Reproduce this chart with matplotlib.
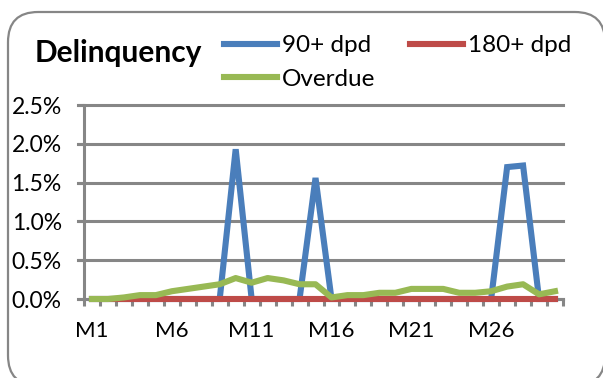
import matplotlib
matplotlib.use("Agg")
import matplotlib.pyplot as plt
from matplotlib.patches import FancyBboxPatch
from matplotlib.ticker import FixedLocator, FuncFormatter
from matplotlib.lines import Line2D

months = [f"M{i}" for i in range(1, 31)]
dpd90 = [0, 0, 0, 0, 0, 0, 0, 0, 0, 0.0193, 0, 0, 0, 0, 0.0156, 0, 0, 0, 0, 0,
         0, 0, 0, 0, 0, 0, 0.0170, 0.0172, 0, 0]
dpd180 = [0.0] * 30
overdue = [0.0, 0.0, 0.0002, 0.0005, 0.0005, 0.0010, 0.0013, 0.0016, 0.0019, 0.0027,
           0.0021, 0.0027, 0.0024, 0.0019, 0.0019, 0.0002, 0.0005, 0.0005, 0.0008, 0.0008,
           0.0013, 0.0013, 0.0013, 0.0008, 0.0008, 0.0010, 0.0016, 0.0019, 0.0006, 0.0010]
yticks = [0, 0.005, 0.01, 0.015, 0.02, 0.025]
xlabels_shown = ["M1", "M6", "M11", "M16", "M21", "M26"]

FONT = ["Lato", "DejaVu Sans"]
plt.rcParams['font.family'] = FONT

W, H = 603, 378
fig = plt.figure(figsize=(W / 100, H / 100), dpi=100)

grey = "#868686"
LW = 4.4
# rounded chart border
border = FancyBboxPatch((8 / W, 1 - 378 / H - 0.02), (605 - 8) / W, (378 - 12) / H + 0.02,
                        boxstyle="round,pad=0,rounding_size=0.05",
                        transform=fig.transFigure, facecolor="white",
                        edgecolor=grey, linewidth=1.6, zorder=-5, mutation_aspect=W / H)
fig.patches.append(border)

ax = fig.add_axes([84 / W, 1 - 299 / H, (563 - 84) / W, (299 - 105) / H])
ax.set_zorder(2)
ax.set_facecolor("none")

x = list(range(1, 31))
ax.plot(x, dpd90, color="#4A7EBB", lw=LW, solid_joinstyle="miter", zorder=3, clip_on=False)
ax.plot(x, dpd180, color="#BE4B48", lw=LW, zorder=4, clip_on=False)
ax.plot(x, overdue, color="#98B954", lw=LW, zorder=5, clip_on=False)

ax.set_xlim(0.5, 30.5)
ax.set_ylim(0, 0.025)

for y in yticks:
    ax.axhline(y, xmin=-0.013, xmax=1.0, color=grey, lw=2.2, zorder=1, clip_on=False)

for s in ["top", "right"]:
    ax.spines[s].set_visible(False)
ax.spines["left"].set_color(grey)
ax.spines["left"].set_linewidth(2.2)
ax.spines["bottom"].set_color(grey)
ax.spines["bottom"].set_linewidth(2.2)
ax.spines["bottom"].set_zorder(2)

ax.yaxis.set_major_locator(FixedLocator(yticks))
ax.yaxis.set_major_formatter(FuncFormatter(lambda v, p: f"{v*100:.1f}%"))
ax.tick_params(axis="y", length=5, width=2.2, color=grey, labelsize=16.5, pad=11)

label_pos = [months.index(m) + 1 for m in xlabels_shown]
ax.xaxis.set_major_locator(FixedLocator(label_pos))
ax.set_xticklabels(xlabels_shown)
ax.xaxis.set_minor_locator(FixedLocator([i + 0.5 for i in range(0, 31)]))
ax.tick_params(axis="x", which="major", length=0, labelsize=16, pad=16)
ax.tick_params(axis="x", which="minor", length=5, width=2.2, color=grey)

fig.text(35 / W, 1 - 53 / H, "Delinquency", fontsize=21.5, fontweight="bold",
         va="center", ha="left")

handles = [Line2D([], [], color="#4A7EBB", lw=LW),
           Line2D([], [], color="#98B954", lw=LW),
           Line2D([], [], color="#BE4B48", lw=LW)]
leg = fig.legend(handles, ["90+ dpd", "Overdue", "180+ dpd"], ncol=2,
                 loc="upper left", bbox_to_anchor=(224 / W, 1 - 35 / H),
                 frameon=False, fontsize=17.5, handlelength=2.2, handletextpad=0.2,
                 columnspacing=1.4, labelspacing=0.52, borderaxespad=0, borderpad=0)

fig.savefig("out.png", dpi=100)
